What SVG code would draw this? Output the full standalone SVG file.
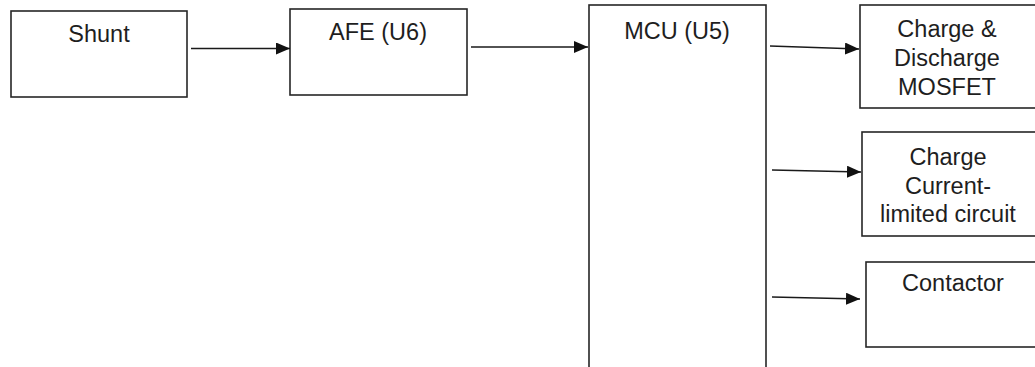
<svg xmlns="http://www.w3.org/2000/svg" width="1035" height="367" viewBox="0 0 1035 367">
<style>
.box{fill:#fff;stroke:#262626;stroke-width:1.6}
.lbl{font-family:"Liberation Sans",Arial,sans-serif;font-size:23.5px;fill:#1e1e1e;text-anchor:middle}
.wire{stroke:#1a1a1a;stroke-width:1.6;fill:none;marker-end:url(#ah)}
</style>
<defs>
<marker id="ah" markerUnits="userSpaceOnUse" markerWidth="14" markerHeight="12" refX="14" refY="6" orient="auto">
<path d="M0,0 L14,6 L0,12 z" fill="#111"/>
</marker>
</defs>
<rect width="1035" height="367" fill="#fff"/>
<g id="shunt">
<rect class="box" x="11" y="11" width="176" height="86"/>
<text class="lbl" x="99" y="42">Shunt</text>
</g>
<g id="afe">
<rect class="box" x="290" y="9" width="177" height="86"/>
<text class="lbl" x="378" y="40">AFE (U6)</text>
</g>
<g id="mcu">
<rect class="box" x="589" y="5" width="177" height="370"/>
<text class="lbl" x="677" y="39">MCU (U5)</text>
</g>
<g id="mosfet">
<rect class="box" x="860" y="5" width="185" height="103"/>
<text class="lbl" x="947" y="37">Charge &amp;</text>
<text class="lbl" x="947" y="66">Discharge</text>
<text class="lbl" x="947" y="95">MOSFET</text>
</g>
<g id="limit">
<rect class="box" x="862" y="132" width="183" height="104"/>
<text class="lbl" x="948" y="165">Charge</text>
<text class="lbl" x="948" y="194">Current-</text>
<text class="lbl" x="948" y="222">limited circuit</text>
</g>
<g id="contactor">
<rect class="box" x="866" y="262" width="179" height="85"/>
<text class="lbl" x="953" y="291">Contactor</text>
</g>
<g id="connectors">
<line class="wire" x1="191" y1="48.5" x2="290" y2="48.5"/>
<line class="wire" x1="471" y1="47" x2="588" y2="47"/>
<line class="wire" x1="770" y1="46" x2="859" y2="49"/>
<line class="wire" x1="772" y1="170" x2="861" y2="172"/>
<line class="wire" x1="772" y1="297" x2="860" y2="299"/>
</g>
</svg>
